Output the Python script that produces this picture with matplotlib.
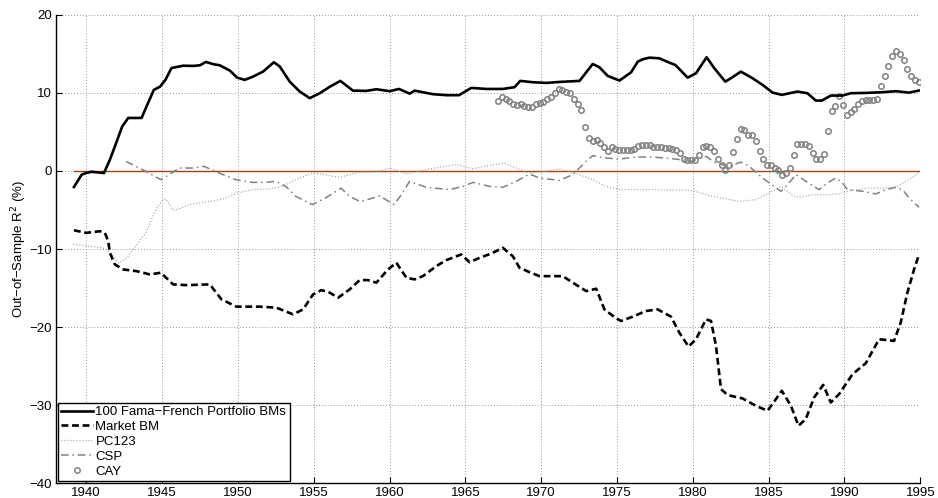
import matplotlib
matplotlib.use('Agg')
import numpy as np
import matplotlib.pyplot as plt

plt.rcParams['font.family'] = ['Liberation Sans', 'DejaVu Sans']

# ── series (year, out-of-sample R^2 in %) ─────────────────────────────────────
ff_year = [1939.19, 1939.70, 1939.98, 1940.35, 1941.17, 1941.56, 1941.89, 1942.37,
           1942.77, 1943.65, 1943.98, 1944.46, 1944.86, 1945.23, 1945.62, 1946.39,
           1947.05, 1947.49, 1947.89, 1948.37, 1948.81, 1949.47, 1949.95, 1950.45,
           1951.00, 1951.66, 1952.37, 1952.76, 1953.42, 1954.08, 1954.74, 1955.40,
           1956.06, 1956.76, 1957.59, 1958.47, 1959.13, 1960.01, 1960.62, 1961.33,
           1961.66, 1962.86, 1963.74, 1964.58, 1965.39, 1966.38, 1967.47, 1968.24,
           1968.62, 1969.45, 1970.33, 1971.21, 1972.53, 1973.40, 1973.84, 1974.39,
           1975.16, 1975.93, 1976.37, 1976.70, 1977.13, 1977.79, 1978.45, 1978.85,
           1979.66, 1980.21, 1980.91, 1981.42, 1982.14, 1982.51, 1983.17, 1983.94,
           1984.60, 1985.26, 1985.87, 1986.90, 1987.56, 1988.11, 1988.51, 1989.10,
           1989.87, 1990.42, 1991.41, 1992.50, 1993.38, 1994.26, 1994.90]
ff_r2 = [-2.05, -0.47, -0.26, -0.10, -0.26, 1.45, 3.15, 5.70,
         6.80, 6.80, 8.30, 10.40, 10.80, 11.70, 13.20, 13.50,
         13.47, 13.55, 13.98, 13.70, 13.55, 12.87, 11.97, 11.68,
         12.10, 12.74, 13.94, 13.40, 11.46, 10.18, 9.34, 9.97,
         10.80, 11.55, 10.30, 10.27, 10.48, 10.23, 10.52, 9.92,
         10.30, 9.85, 9.72, 9.72, 10.65, 10.52, 10.52, 10.74,
         11.55, 11.38, 11.29, 11.42, 11.55, 13.72, 13.30, 12.19,
         11.59, 12.65, 14.02, 14.32, 14.53, 14.45, 13.89, 13.59,
         11.97, 12.53, 14.58, 13.17, 11.46, 11.89, 12.74, 11.89,
         11.04, 10.05, 9.76, 10.18, 9.97, 9.03, 9.03, 9.67,
         9.67, 9.97, 10.01, 10.10, 10.23, 10.05, 10.31]

mkt_year = [1939.19, 1940.00, 1940.90, 1941.23, 1941.45, 1941.56, 1941.89, 1942.44,
            1943.32, 1944.20, 1944.92, 1945.73, 1946.61, 1948.15, 1948.92, 1949.90,
            1951.44, 1952.54, 1953.64, 1954.30, 1954.96, 1955.51, 1956.06, 1956.61,
            1957.37, 1958.03, 1958.58, 1959.13, 1959.90, 1960.45, 1961.11, 1961.66,
            1962.20, 1963.08, 1963.74, 1964.73, 1965.28, 1965.94, 1966.71, 1967.47,
            1968.13, 1968.57, 1969.23, 1969.89, 1971.43, 1972.09, 1972.97, 1973.63,
            1974.17, 1974.94, 1975.27, 1976.04, 1976.91, 1977.68, 1978.56, 1979.11,
            1979.72, 1980.21, 1980.87, 1981.20, 1981.53, 1981.86, 1982.30, 1983.28,
            1984.16, 1984.93, 1985.87, 1986.47, 1986.97, 1987.45, 1988.00, 1988.60,
            1989.10, 1989.65, 1990.53, 1991.41, 1992.28, 1992.94, 1993.27, 1993.71,
            1994.15, 1994.59, 1994.92]
mkt_r2 = [-7.60, -7.93, -7.72, -7.93, -9.00, -10.49, -11.98, -12.62,
          -12.84, -13.26, -13.04, -14.54, -14.63, -14.54, -16.46, -17.39,
          -17.39, -17.52, -18.38, -17.74, -15.82, -15.27, -15.60, -16.24,
          -15.18, -13.99, -13.99, -14.32, -12.62, -11.76, -13.68, -13.90,
          -13.48, -12.20, -11.43, -10.70, -11.69, -11.13, -10.58, -9.85,
          -10.92, -12.40, -12.97, -13.48, -13.48, -14.32, -15.40, -15.09,
          -17.74, -18.89, -19.23, -18.67, -17.95, -17.74, -18.67, -20.72,
          -22.51, -21.57, -19.02, -19.23, -22.43, -27.97, -28.73, -29.16,
          -30.10, -30.74, -28.18, -30.10, -32.66, -31.80, -29.03, -27.42,
          -29.67, -28.60, -26.05, -24.64, -21.57, -21.70, -21.79, -19.44,
          -15.60, -12.62, -10.70]

pc_year = [1939.15, 1940.00, 1941.08, 1941.60, 1942.15, 1942.60, 1943.05, 1943.50,
           1943.93, 1944.59, 1945.03, 1945.25, 1945.69, 1946.02, 1946.79, 1947.45,
           1948.33, 1949.20, 1949.97, 1950.96, 1952.06, 1952.94, 1953.81, 1954.91,
           1955.57, 1956.23, 1956.71, 1958.03, 1959.13, 1960.01, 1961.11, 1962.64,
           1964.40, 1965.50, 1966.59, 1967.58, 1968.35, 1969.23, 1970.33, 1971.21,
           1972.08, 1973.40, 1974.28, 1975.16, 1977.35, 1979.88, 1981.31, 1983.06,
           1984.16, 1985.04, 1985.81, 1986.69, 1987.02, 1987.90, 1988.99, 1989.65,
           1990.31, 1991.63, 1992.50, 1993.38, 1994.04, 1994.59, 1994.92]
pc_r2 = [-9.42, -9.60, -9.85, -10.50, -11.80, -11.30, -10.20, -9.00,
         -7.93, -4.95, -3.67, -3.60, -4.95, -4.95, -4.31, -4.09,
         -3.88, -3.46, -2.82, -2.39, -2.30, -1.96, -1.11, -0.26,
         -0.39, -0.68, -0.81, -0.13, -0.13, 0.38, -0.38, 0.26,
         0.81, 0.29, 0.72, 1.02, 0.38, -0.26, -0.05, 0.26,
         -0.17, -1.11, -1.97, -2.39, -2.39, -2.48, -3.24, -3.90,
         -3.67, -2.82, -1.97, -3.24, -3.37, -3.03, -3.03, -2.94,
         -2.52, -2.18, -2.18, -2.09, -1.33, -0.69, -0.05]

csp_year = [1942.63, 1943.71, 1944.92, 1945.47, 1946.13, 1947.00, 1947.77, 1948.76,
            1949.86, 1950.96, 1951.84, 1952.50, 1953.16, 1953.81, 1954.91, 1955.79,
            1956.80, 1957.37, 1958.08, 1959.35, 1960.30, 1960.78, 1961.32, 1962.42,
            1963.96, 1964.84, 1965.50, 1966.59, 1967.47, 1968.35, 1969.23, 1969.89,
            1971.21, 1972.08, 1972.96, 1973.40, 1974.28, 1975.16, 1976.26, 1977.35,
            1978.89, 1979.88, 1980.87, 1981.53, 1982.40, 1983.17, 1983.72, 1984.60,
            1985.81, 1986.25, 1986.80, 1987.79, 1988.33, 1988.88, 1989.43, 1989.87,
            1990.20, 1991.19, 1992.07, 1992.73, 1993.38, 1993.82, 1994.37, 1994.92]
csp_r2 = [1.23, 0.17, -1.11, -0.47, 0.38, 0.38, 0.59, -0.26,
          -1.11, -1.46, -1.46, -1.33, -1.97, -3.24, -4.31, -3.45,
          -2.20, -3.24, -3.95, -3.20, -4.31, -3.03, -1.33, -2.09,
          -2.39, -1.97, -1.46, -1.97, -2.09, -1.33, -0.38, -0.90,
          -1.20, -0.47, 1.23, 1.96, 1.66, 1.53, 1.79, 1.79,
          1.53, 1.23, 1.87, 1.02, 0.59, 1.15, 0.59, -0.90,
          -2.60, -1.75, -0.47, -1.75, -2.39, -1.54, -0.90, -1.54,
          -2.39, -2.60, -2.94, -2.39, -2.09, -2.39, -3.67, -4.65]

# CAY is quarterly, first quarter at 1967.15
cay_r2 = [9.03, 9.46, 9.25, 8.99, 8.61, 8.48, 8.57, 8.35,
          8.26, 8.26, 8.61, 8.77, 8.90, 9.20, 9.54, 9.97,
          10.49, 10.40, 10.18, 10.05, 9.20, 8.57, 7.84, 5.70,
          4.22, 3.79, 3.92, 3.58,
          3.02, 2.51, 3.02, 2.85, 2.72, 2.72, 2.72, 2.72, 2.85, 3.24,
          3.28, 3.28, 3.28, 3.07, 3.02, 3.02, 2.94, 2.94, 2.85, 2.64,
          2.30, 1.57, 1.36, 1.36, 1.36, 2.08, 3.07, 3.15, 3.07, 2.51,
          1.53, 0.72, 0.17, 0.81, 2.43, 4.13, 5.41, 5.28, 4.56, 4.56,
          3.79, 2.51, 1.57, 0.72, 0.72, 0.38, 0.17, -0.56, -0.26, 0.38,
          2.08, 3.49, 3.49, 3.45, 3.24, 2.30, 1.53, 1.53, 2.17, 5.15,
          7.71, 8.35, 9.63, 8.48, 7.20, 7.54, 7.92, 8.56, 9.03, 9.08,
          9.08, 9.08, 9.29, 10.91, 12.23, 13.51, 14.74, 15.43, 14.96, 14.23,
          13.08, 12.23, 11.68, 11.46]
cay_year = 1967.15 + 0.25 * np.arange(len(cay_r2))

labels = ['100 Fama\u2212French Portfolio BMs', 'Market BM', 'PC123', 'CSP', 'CAY']

# ── plot ──────────────────────────────────────────────────────────────────────
fig = plt.figure(figsize=(9.38, 4.98), dpi=100)
ax = fig.add_axes([0.0596, 0.0301, 0.9215, 0.9398])

ax.plot(ff_year, ff_r2, color='black', lw=1.9, label=labels[0], zorder=5)
ax.plot(mkt_year, mkt_r2, color='black', lw=1.9, dashes=(2.6, 1.4),
        label=labels[1], zorder=5)
ax.plot(pc_year, pc_r2, color='0.62', lw=0.9, dashes=(0.8, 1.6),
        label=labels[2], zorder=3)
ax.plot(csp_year, csp_r2, color='0.5', lw=1.1, dashes=(5, 2.5, 1, 2.5),
        label=labels[3], zorder=3)
ax.plot(cay_year, cay_r2, 'o', ms=3.9, mfc='none', mec='0.5', mew=1.1,
        label=labels[4], zorder=4)
ax.plot([ff_year[0], ff_year[-1]], [0, 0], color='#ee1c14', lw=1.0, zorder=2)

ax.set_xlim(1938, 1995)
ax.set_ylim(-40, 20)
ax.set_xticks(np.arange(1940, 1996, 5))
ax.set_yticks(np.arange(-40, 21, 10))
ax.tick_params(direction='in', length=4, width=0.8, labelsize=9.5, pad=3)
ax.grid(True, color='0.45', lw=0.6, linestyle=(0, (1, 2.5)))
ax.set_axisbelow(True)
for side in ('top', 'right'):
    ax.spines[side].set_visible(False)
for side in ('left', 'bottom'):
    ax.spines[side].set_linewidth(1.0)

ax.set_ylabel('Out\u2212of\u2212Sample R$^2$ (%)', fontsize=9.5, labelpad=0)

leg = ax.legend(loc='lower left', fontsize=9.5, fancybox=False, framealpha=1,
                edgecolor='black', borderaxespad=0.15, labelspacing=0.2,
                handlelength=2.4, handletextpad=0.2, borderpad=0.25)
leg.get_frame().set_linewidth(1.0)

fig.savefig('out.png', dpi=100)
